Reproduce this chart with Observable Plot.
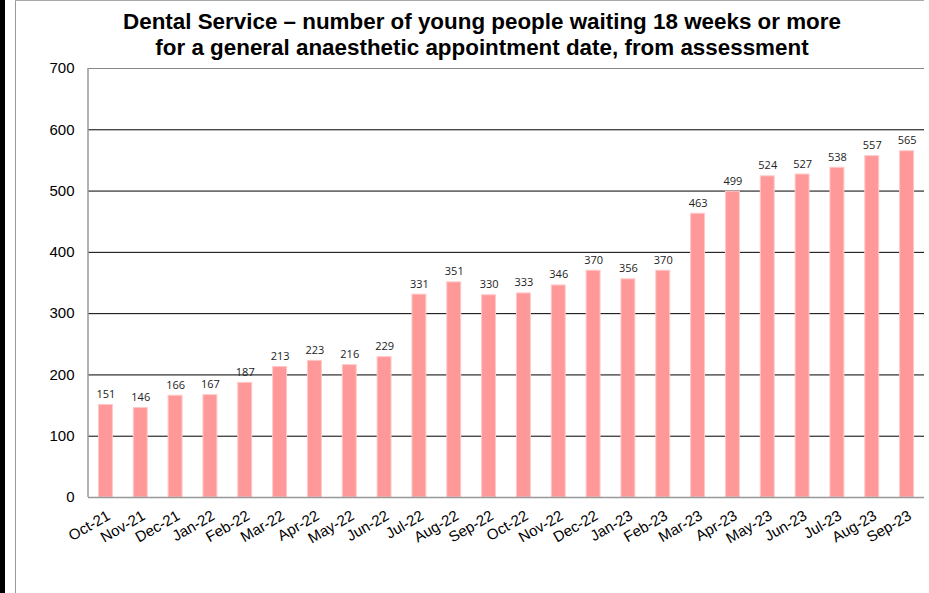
<!DOCTYPE html>
<html>
<head>
<meta charset="utf-8">
<script src="https://cdn.jsdelivr.net/npm/d3@7"></script>
<script src="https://cdn.jsdelivr.net/npm/@observablehq/plot@0.6"></script>
<style>
  html, body { margin: 0; padding: 0; background: #fff; }
  #wrap { position: relative; width: 929px; height: 593px; overflow: hidden; font-family: "Liberation Sans", Arial, sans-serif; }
  #stripe { position: absolute; left: 0; top: 0; width: 5px; height: 593px; background: #000; }
  #bleft { position: absolute; left: 15px; top: 0; width: 1px; height: 593px; background: #999; }
  #btop { position: absolute; left: 15px; top: 0; width: 909px; height: 1px; background: #aaa; }
  #title { position: absolute; left: 0; top: 9px; width: 964px; text-align: center; font-weight: bold; font-size: 22.4px; line-height: 26px; color: #000; }
  #chart { position: absolute; left: 0; top: 0; }
</style>
</head>
<body>
<div id="wrap">
  <div id="chart"></div>
  <div id="stripe"></div>
  <div id="bleft"></div>
  <div id="btop"></div>
  <div id="title">Dental Service – number of young people waiting 18 weeks or more<br>for a general anaesthetic appointment date, from assessment</div>
</div>
<script>
const months = ["Oct-21","Nov-21","Dec-21","Jan-22","Feb-22","Mar-22","Apr-22","May-22","Jun-22","Jul-22","Aug-22","Sep-22","Oct-22","Nov-22","Dec-22","Jan-23","Feb-23","Mar-23","Apr-23","May-23","Jun-23","Jul-23","Aug-23","Sep-23"];
const waiting = [151,146,166,167,187,213,223,216,229,331,351,330,333,346,370,356,370,463,499,524,527,538,557,565];
const yTicks = [0,100,200,300,400,500,600,700];
const gridValues = [100,200,300,400,500,600];

const data = months.map((m, i) => ({month: m, value: waiting[i]}));

const plotLeft = 88, plotRight = 924, plotTop = 68, plotBottom = 497;

const chart = Plot.plot({
  width: 929,
  height: 593,
  marginLeft: plotLeft,
  marginRight: 929 - plotRight,
  marginTop: plotTop,
  marginBottom: 593 - plotBottom,
  style: {fontFamily: "'Liberation Sans', Arial, sans-serif", background: "transparent"},
  x: {domain: months, paddingInner: 0.6, paddingOuter: 0.3, round: false, label: null},
  y: {domain: [0, 700], label: null},
  marks: [
    Plot.ruleY(gridValues, {stroke: "#000", strokeWidth: 1}),
    Plot.barY(data, {x: "month", y: "value", fill: "#ff9999", stroke: "#ffc8c8", strokeWidth: 1}),
    Plot.text(data, {x: "month", y: "value", text: d => String(d.value), lineAnchor: "bottom", dy: -7, fontSize: 11, fill: "#222", fontFamily: "'Open Sans', 'Noto Sans', sans-serif"}),
    Plot.ruleY([0], {stroke: "#999", strokeWidth: 1.5}),
    Plot.ruleY([700], {stroke: "#888", strokeWidth: 1}),
    Plot.axisY({ticks: yTicks, tickSize: 0, tickPadding: 14, fontSize: 15, tickFormat: d => String(d), fill: "#000"}),
    Plot.axisX({tickSize: 0, tickRotate: -30, tickPadding: 17, dx: 3, fontSize: 15, fill: "#000"})
  ]
});
document.getElementById("chart").appendChild(chart);

const yr = chart.scale("y").range;
d3.select(chart).append("line")
  .attr("x1", plotLeft).attr("x2", plotLeft)
  .attr("y1", yr[1]).attr("y2", yr[0])
  .attr("stroke", "#999").attr("stroke-width", 1.5);
</script>
</body>
</html>
